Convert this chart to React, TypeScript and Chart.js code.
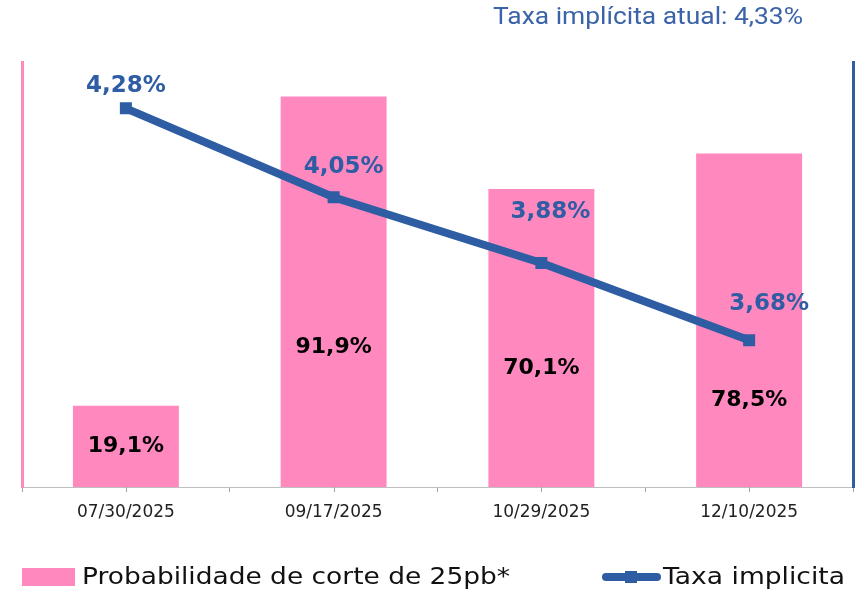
import React, { useEffect, useRef } from "react";
import { Chart, registerables } from "chart.js";

Chart.register(...registerables);

const categories = ["07/30/2025", "09/17/2025", "10/29/2025", "12/10/2025"];
const probValues = [19.1, 91.9, 70.1, 78.5];
const rateValues = [4.28, 4.05, 3.88, 3.68];
const probLegend = "Probabilidade de corte de 25pb*";
const rateLegend = "Taxa implicita";
const headline = "Taxa implícita atual: 4,33%";

const PINK = "#FF88BF";
const BLUE = "#2E5DA3";
const FONT = '"DejaVu Sans", "Noto Sans", sans-serif';

const fmt = (v: number, d: number) => v.toFixed(d).replace(".", ",") + "%";

// label placement offsets (px) relative to bar centre / line point
const barLabelDy = [0, 56, 30, 80];
const lineLabelDx = [0, 10, 9, 20];
const lineLabelDy = [-22, -30, -51, -36];

// draw text scaled horizontally to a target width
function fitText(ctx: CanvasRenderingContext2D, text: string, x: number, y: number, w: number, align: "left" | "right") {
  const m = ctx.measureText(text).width;
  const k = w / m;
  ctx.save();
  ctx.textAlign = "left";
  const x0 = align === "left" ? x : x - w;
  ctx.translate(x0, y);
  ctx.scale(k, 1);
  ctx.fillText(text, 0, 0);
  ctx.restore();
}

const overlayPlugin = {
  id: "overlay",
  afterDraw(chart: any) {
    const ctx = chart.ctx as CanvasRenderingContext2D;
    const xs = chart.scales.x;
    const area = chart.chartArea;
    ctx.save();
    // centre tick marks on x axis
    ctx.strokeStyle = "#A6A6A6";
    ctx.lineWidth = 1;
    categories.forEach((_, i) => {
      const px = Math.round(xs.getPixelForValue(i)) + 0.5;
      ctx.beginPath();
      ctx.moveTo(px, area.bottom);
      ctx.lineTo(px, area.bottom + 5);
      ctx.stroke();
    });

    // bar labels
    ctx.textAlign = "center";
    ctx.textBaseline = "middle";
    ctx.fillStyle = "#000";
    ctx.font = `bold 22px ${FONT}`;
    chart.getDatasetMeta(0).data.forEach((el: any, i: number) => {
      const { x, y, base } = el.getProps(["x", "y", "base"], true);
      ctx.fillText(fmt(probValues[i], 1), x, (y + base) / 2 + barLabelDy[i]);
    });

    // line labels
    ctx.fillStyle = BLUE;
    ctx.font = `bold 23px ${FONT}`;
    chart.getDatasetMeta(1).data.forEach((el: any, i: number) => {
      const { x, y } = el.getProps(["x", "y"], true);
      ctx.fillText(fmt(rateValues[i], 2), x + lineLabelDx[i], y + lineLabelDy[i]);
    });

    // headline
    ctx.fillStyle = "#3A63A8";
    ctx.font = `24px "Roboto", sans-serif`;
    fitText(ctx, headline, 803, 18, 310, "right");

    // legend
    const ly = 577;
    ctx.fillStyle = PINK;
    ctx.fillRect(22, ly - 9, 53, 18);
    ctx.fillStyle = "#111";
    ctx.font = `23px ${FONT}`;
    fitText(ctx, probLegend, 82, ly + 1, 428, "left");

    ctx.strokeStyle = BLUE;
    ctx.lineWidth = 8;
    ctx.lineCap = "round";
    ctx.beginPath();
    ctx.moveTo(606, ly);
    ctx.lineTo(657, ly);
    ctx.stroke();
    ctx.fillStyle = BLUE;
    ctx.fillRect(625, ly - 6, 12, 12);
    ctx.fillStyle = "#111";
    fitText(ctx, rateLegend, 663, ly + 1, 182, "left");
    ctx.restore();
  },
};

export default function App() {
  const ref = useRef<HTMLCanvasElement>(null);
  useEffect(() => {
    if (!ref.current) return;
    const chart = new Chart(ref.current, {
      type: "bar",
      data: {
        labels: categories,
        datasets: [
          {
            type: "bar",
            label: probLegend,
            data: probValues,
            backgroundColor: PINK,
            yAxisID: "y",
            categoryPercentage: 1,
            barPercentage: 0.51,
            order: 2,
          },
          {
            type: "line",
            label: rateLegend,
            data: rateValues,
            borderColor: BLUE,
            backgroundColor: BLUE,
            borderWidth: 8,
            pointStyle: "rect",
            pointRadius: 8.5,
            pointBorderWidth: 0,
            yAxisID: "y1",
            order: 1,
          } as any,
        ],
      },
      options: {
        responsive: false,
        animation: false,
        devicePixelRatio: 1,
        layout: { autoPadding: false, padding: { left: 22, right: 5, top: 62, bottom: 0 } },
        plugins: { legend: { display: false }, tooltip: { enabled: false }, title: { display: false } },
        scales: {
          x: {
            grid: { display: true, drawOnChartArea: false, offset: true, tickLength: 5, color: "#A6A6A6" },
            border: { display: true, color: "#BFBFBF", width: 1 },
            ticks: { color: "#222", font: { family: FONT, size: 17 }, padding: 10 },
            afterFit: (s: any) => { s.height = 105; s.paddingLeft = 0; s.paddingRight = 0; },
          },
          y: {
            position: "left",
            min: 0,
            max: 100,
            grid: { display: false },
            ticks: { display: false },
            border: { display: true, color: PINK, width: 3 },
            afterFit: (s: any) => { s.width = 0; },
          },
          y1: {
            position: "right",
            min: 3.3,
            max: 4.4,
            grid: { display: false },
            ticks: { display: false },
            border: { display: true, color: BLUE, width: 3 },
            afterFit: (s: any) => { s.width = 0; },
          },
        },
      } as any,
      plugins: [overlayPlugin],
    });
    return () => chart.destroy();
  }, []);
  return (
    <div style={{ position: "absolute", left: 0, top: 0, width: 858, height: 592 }}>
      <canvas ref={ref} width={858} height={592} />
    </div>
  );
}
